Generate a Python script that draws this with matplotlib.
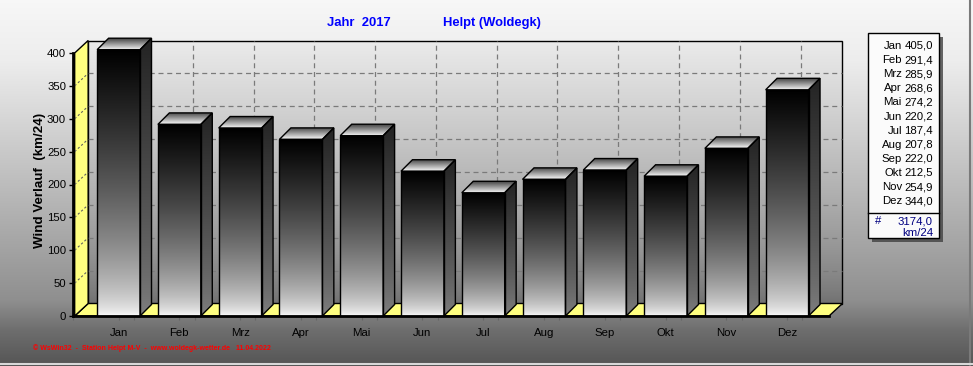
import numpy as np
import matplotlib
matplotlib.use('Agg')
import matplotlib.pyplot as plt
from matplotlib.patches import Polygon, Rectangle
from matplotlib.lines import Line2D

# ---------------- data ----------------
months = ['Jan', 'Feb', 'Mrz', 'Apr', 'Mai', 'Jun', 'Jul', 'Aug', 'Sep', 'Okt', 'Nov', 'Dez']
values = [405.0, 291.4, 285.9, 268.6, 274.2, 220.2, 187.4, 207.8, 222.0, 212.5, 254.9, 344.0]
total = 3174.0
total_unit = 'km/24'
year_text = 'Jahr  2017'
station_text = 'Helpt (Woldegk)'
y_ticks = [0, 50, 100, 150, 200, 250, 300, 350, 400]
y_label = 'Wind Verlauf  (km/24)'
footer = '\u00a9 WsWin32  -  Station Helpt M-V  -  www.woldegk-wetter.de   11.04.2022'

# ---------------- layout (pixels) ----------------
W, H = 973, 366
FONT = 'Liberation Sans'
plt.rcParams['font.family'] = [FONT, 'DejaVu Sans']

fig = plt.figure(figsize=(W / 100, H / 100), dpi=100)


def gray_img(col):
    c = np.stack([col, col, col], axis=-1)  # (N,3)
    return np.repeat(c[:, None, :], 2, axis=1)  # (N,2,3)


# figure background gradient
bg = fig.add_axes([0, 0, 1, 1], zorder=0)
bg.set_axis_off()
bg.set_xlim(0, W)
bg.set_ylim(H, 0)
rows = np.arange(H)
g = np.interp(rows, [0, 60, 300, 330, 366], [0.97, 0.93, 0.56, 0.43, 0.33])
bg.imshow(gray_img(g), aspect='auto', extent=(0, W, H, 0), interpolation='bilinear')
bg.plot([W - 3, W - 3], [0, H], color='#7a7a7a', lw=1.5)
bg.plot([0, W], [H - 2, H - 2], color='#d8d8d8', lw=1.5)

# front plane of plot
left_px, right_px, bot_px, top_px = 73, 829, 316, 53
cx0_px, spacing_px = 117, 60.91
ax = fig.add_axes([left_px / W, 1 - bot_px / H, (right_px - left_px) / W, (bot_px - top_px) / H], zorder=1)
ax.patch.set_visible(False)
x_lo = (left_px - cx0_px) / spacing_px
x_hi = (right_px - cx0_px) / spacing_px
ymax = 400
ax.set_xlim(x_lo, x_hi)
ax.set_ylim(0, ymax)
px_x = spacing_px
px_y = (bot_px - top_px) / ymax

# depths (data units)
wdx, wdy = 13.5 / px_x, 12.5 / px_y
bdx, bdy = 11.5 / px_x, 11.5 / px_y
bw = 43.0 / px_x / 2

YEL = '#ffff80'


def grad_fill(poly_pts, extent, colors_bottom_to_top, zorder, n=256, gamma=1.0):
    poly = Polygon(poly_pts, closed=True, facecolor='none', edgecolor='none',
                   transform=ax.transData, clip_on=False)
    ax.add_patch(poly)
    t = np.linspace(0, 1, n) ** gamma
    c0, c1 = colors_bottom_to_top
    col = c0 + (c1 - c0) * t
    im = ax.imshow(gray_img(col), extent=extent, origin='lower', aspect='auto',
                   zorder=zorder, interpolation='bilinear')
    im.set_clip_box(fig.bbox)
    im.set_clip_path(poly)
    return im


# back wall
bw_pts = [(x_lo + wdx, wdy), (x_hi + wdx, wdy), (x_hi + wdx, ymax + wdy), (x_lo + wdx, ymax + wdy)]
grad_fill(bw_pts, (x_lo + wdx, x_hi + wdx, wdy, ymax + wdy), (0.44, 0.92), 1, gamma=0.75)
ax.add_patch(Polygon(bw_pts, closed=True, facecolor='none', edgecolor='black', lw=1.0,
                     zorder=1.5, clip_on=False))

# grid on back wall
for v in y_ticks[1:-1]:
    ax.add_line(Line2D([x_lo + wdx, x_hi + wdx], [v + wdy, v + wdy], color='#7a7a7a', lw=0.9,
                       ls=(0, (4, 3)), zorder=1.6, clip_on=False))
for i in range(len(months)):
    ax.add_line(Line2D([i + wdx, i + wdx], [wdy, ymax + wdy], color='#7a7a7a', lw=0.9,
                       ls=(0, (4, 3)), zorder=1.6, clip_on=False))

# floor
floor = [(x_lo, 0), (x_hi, 0), (x_hi + wdx, wdy), (x_lo + wdx, wdy)]
ax.add_patch(Polygon(floor, closed=True, facecolor=YEL, edgecolor='black', lw=1.0, zorder=2, clip_on=False))
# side wall
side = [(x_lo, 0), (x_lo + wdx, wdy), (x_lo + wdx, ymax + wdy), (x_lo, ymax)]
ax.add_patch(Polygon(side, closed=True, facecolor=YEL, edgecolor='black', lw=1.0, zorder=2, clip_on=False))
for v in y_ticks[1:-1]:
    ax.add_line(Line2D([x_lo, x_lo + wdx], [v, v + wdy], color='#606060', lw=0.8,
                       ls=(0, (2, 2)), zorder=2.1, clip_on=False))

# bars
for i, v in enumerate(values):
    x0, x1 = i - bw, i + bw
    z = 3 + i * 0.01
    grad_fill([(x0, 0), (x1, 0), (x1, v), (x0, v)], (x0, x1, 0, v), (1.0, 0.0), z, gamma=0.6)
    sp = [(x1, 0), (x1 + bdx, bdy), (x1 + bdx, v + bdy), (x1, v)]
    grad_fill(sp, (x1, x1 + bdx, 0, v + bdy), (0.50, 0.14), z, gamma=0.8)
    tp = [(x0, v), (x1, v), (x1 + bdx, v + bdy), (x0 + bdx, v + bdy)]
    grad_fill(tp, (x0, x1 + bdx, v, v + bdy), (0.97, 0.25), z)
    for pts in ([(x0, 0), (x1, 0), (x1, v), (x0, v)], sp, tp):
        ax.add_patch(Polygon(pts, closed=True, facecolor='none', edgecolor='black', lw=1.0,
                             zorder=z + 0.005, clip_on=False))

# axes styling
for s in ('top', 'right'):
    ax.spines[s].set_visible(False)
ax.spines['left'].set_linewidth(2)
ax.spines['bottom'].set_linewidth(2)
ax.spines['left'].set_zorder(5)
ax.spines['bottom'].set_zorder(5)
ax.set_yticks(y_ticks)
ax.set_yticklabels([str(t) for t in y_ticks], fontsize=8.2)
ax.set_xticks(range(len(months)))
ax.set_xticklabels(months, fontsize=8.2)
ax.set_xticks([i + 0.25 for i in range(-1, len(months))], minor=True)
ax.tick_params(axis='y', length=3, width=1, pad=2, colors='black')
ax.tick_params(axis='x', which='both', length=3, width=0.8, pad=6, color='#666666', labelcolor='black')

fig.text(40 / W, 1 - 180 / H, y_label, rotation=90, ha='center', va='center',
         fontsize=9.6, fontweight='bold', color='black')

# title
fig.text(327 / W, 1 - 23 / H, year_text, ha='left', va='center', fontsize=9.4,
         fontweight='bold', color='#0000ff')
fig.text(443 / W, 1 - 23 / H, station_text, ha='left', va='center', fontsize=9.4,
         fontweight='bold', color='#0000ff')

# footer
fig.text(33 / W, 1 - 348 / H, footer, ha='left', va='center', fontsize=5.0,
         fontweight='bold', color='#ff0000')

# legend box
lb_l, lb_r, lb_t, lb_b = 868, 939, 33, 238
bg.add_patch(Rectangle((lb_l + 4, lb_t + 4), lb_r - lb_l, lb_b - lb_t, facecolor='#404040',
                       edgecolor='none', alpha=0.8, zorder=5))
bg.add_patch(Rectangle((lb_l, lb_t), lb_r - lb_l, lb_b - lb_t, facecolor='#fbfbfb',
                       edgecolor='black', lw=1.0, zorder=6))
bg.plot([lb_l, lb_r], [213, 213], color='black', lw=1.0, zorder=7)
for k, (m, v) in enumerate(zip(months, values)):
    yy = 46 + k * 14.1
    bg.text(902, yy, m, ha='right', va='center', fontsize=8.2, zorder=8)
    bg.text(933, yy, f'{v:.1f}'.replace('.', ','), ha='right', va='center', fontsize=8.2, zorder=8)
bg.text(875, 221, '#', ha='left', va='center', fontsize=8.2, color='#000080', zorder=8)
bg.text(933, 221, f'{total:.1f}'.replace('.', ','), ha='right', va='center', fontsize=8.2,
        color='#000080', zorder=8)
bg.text(933, 233, total_unit, ha='right', va='center', fontsize=8.2, color='#000080', zorder=8)

fig.savefig('out.png', dpi=100)
